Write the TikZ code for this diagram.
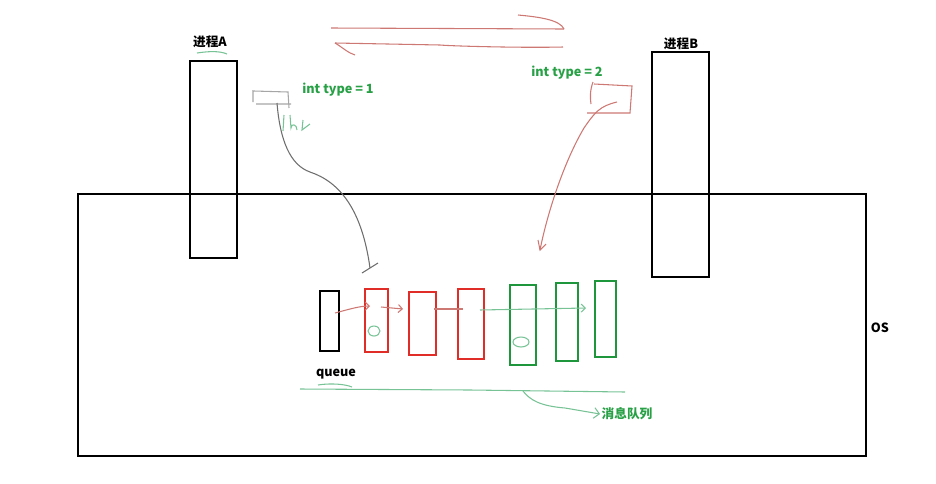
\documentclass[tikz,border=0pt]{standalone}
\usepackage{fontspec}
\setmainfont{Noto Sans CJK SC}
\usetikzlibrary{arrows.meta}
\definecolor{gtxt}{RGB}{40,160,70}
\definecolor{gbox}{RGB}{30,150,60}
\definecolor{rbox}{RGB}{225,45,40}
\definecolor{pen}{RGB}{205,120,115}
\definecolor{gpen}{RGB}{120,195,150}
\definecolor{graypen}{RGB}{110,110,110}
\tikzset{
  blk/.style={draw=black,line width=1.8pt},
  qbox/.style={draw,line width=1.6pt,inner sep=0pt},
  lbl/.style={font=\bfseries\fontsize{9.5}{11}\selectfont,inner sep=1pt},
  glbl/.style={lbl,text=gtxt},
  redpen/.style={draw=pen,line width=0.8pt},
  greenpen/.style={draw=gpen,line width=0.8pt},
  graystroke/.style={draw=graypen,line width=0.8pt},
}
\begin{document}
\begin{tikzpicture}[x=0.75pt,y=-0.75pt]
\useasboundingbox (0,0) rectangle (936,483);
% OS
\draw[blk] (78,194) rectangle (866,456);
\node[lbl] (os) at (880,328) {OS};
% processes
\node[blk,minimum width=35.25pt,minimum height=147.75pt,inner sep=0pt] (pa) at (213.5,159.5) {};
\node[blk,minimum width=42.75pt,minimum height=168.75pt,inner sep=0pt] (pb) at (680.5,164.5) {};
\node[lbl] (la) at (210,42) {进程A};
\node[lbl] (lb) at (681,44) {进程B};
\draw[greenpen] (197,53) .. controls (210,51) and (220,51) .. (227,54);
% queue boxes
\node[qbox,draw=black,minimum width=14.25pt,minimum height=45pt] (q0) at (329.5,321) {};
\node[qbox,draw=rbox,minimum width=17.25pt,minimum height=47.25pt] (q1) at (376.5,320.5) {};
\node[qbox,draw=rbox,minimum width=20.25pt,minimum height=47.25pt] (q2) at (422.5,323.5) {};
\node[qbox,draw=rbox,minimum width=19.5pt,minimum height=52.5pt] (q3) at (471,324) {};
\node[qbox,draw=gbox,minimum width=19.5pt,minimum height=60pt] (q4) at (523,325) {};
\node[qbox,draw=gbox,minimum width=16.5pt,minimum height=58.5pt] (q5) at (567,322) {};
\node[qbox,draw=gbox,minimum width=15.75pt,minimum height=57pt] (q6) at (605.5,319) {};
% links in queue
\coordinate (a0) at (335,313);
\coordinate (a1) at (370,306);
\draw[redpen,-{Straight Barb[length=3pt]}] (a0) .. controls (350,309) and (360,306) .. (a1);
\coordinate (b0) at (381,307);
\coordinate (b1) at (403,309);
\draw[redpen,-{Straight Barb[length=3pt]}] (b0) -- (b1);
\coordinate (c0) at (434,309);
\coordinate (c1) at (463,309);
\draw[redpen] (c0) -- (c1);
\coordinate (d0) at (480,310);
\coordinate (d1) at (586,308);
\draw[greenpen,-{Straight Barb[length=3pt]}] (d0) -- (d1);
\draw[greenpen] (374,331) ellipse (6 and 5);
\draw[greenpen] (521,342) ellipse (8 and 5);
% queue label
\node[lbl] (ql) at (336,374) {queue};
\draw[greenpen] (318,385) .. controls (330,383) and (345,384) .. (352,387);
\coordinate (g0) at (300,389);
\coordinate (g1) at (625,392);
\draw[greenpen] (g0) -- (470,390) -- (g1);
\coordinate (gb) at (523,391);
\node[glbl] (mq) at (627,414) {消息队列};
\draw[greenpen,-{Straight Barb[length=4pt]}] (gb) .. controls (530,400) and (540,406) .. (565,408) -- (mq.west);
% process A message
\node[glbl] (t1) at (338,90) {int type = 1};
\coordinate (m1) at (277,103);
\draw[graystroke,draw=gray!70] (253,90) -- (253,102) (254,91) -- (288,92) -- (289,108) (256,104) -- (291,104);
\draw[greenpen] (284,115) -- (283,131) (290,115) -- (291,128) .. controls (291,123) and (297,124) .. (297,130) (303,120) -- (302,130) -- (310,124);
\coordinate (m1e) at (370,268);
\draw[graystroke] (m1) .. controls (280,140) and (290,165) .. (310,172) .. controls (340,182) and (362,210) .. (m1e);
\draw[graystroke] (362,273) -- (370,268) -- (378,263);
% process B message
\node[glbl] (t2) at (567,73) {int type = 2};
\draw[redpen] (593,82) .. controls (590,90) and (590,98) .. (591,104);
\draw[redpen] (594,84) -- (632,86) -- (630,113) -- (587,113);
\coordinate (m2) at (617,102);
\coordinate (m2e) at (540,250);
\draw[redpen] (m2) .. controls (600,106) and (595,112) .. (584,128) .. controls (565,160) and (548,210) .. (m2e);
\draw[redpen] (538,240) -- (m2e) -- (546,244);
% top double arrow
\coordinate (u0) at (331,28);
\coordinate (u1) at (564,29);
\draw[redpen] (u0) -- (u1);
\draw[redpen] (518,15) .. controls (540,17) and (560,20) .. (u1);
\coordinate (l0) at (335,43);
\coordinate (l1) at (563,47);
\draw[redpen] (l1) .. controls (520,48) and (450,46) .. (440,45) -- (l0);
\draw[redpen] (l0) .. controls (342,47) and (348,53) .. (355,55);
\end{tikzpicture}
\end{document}
